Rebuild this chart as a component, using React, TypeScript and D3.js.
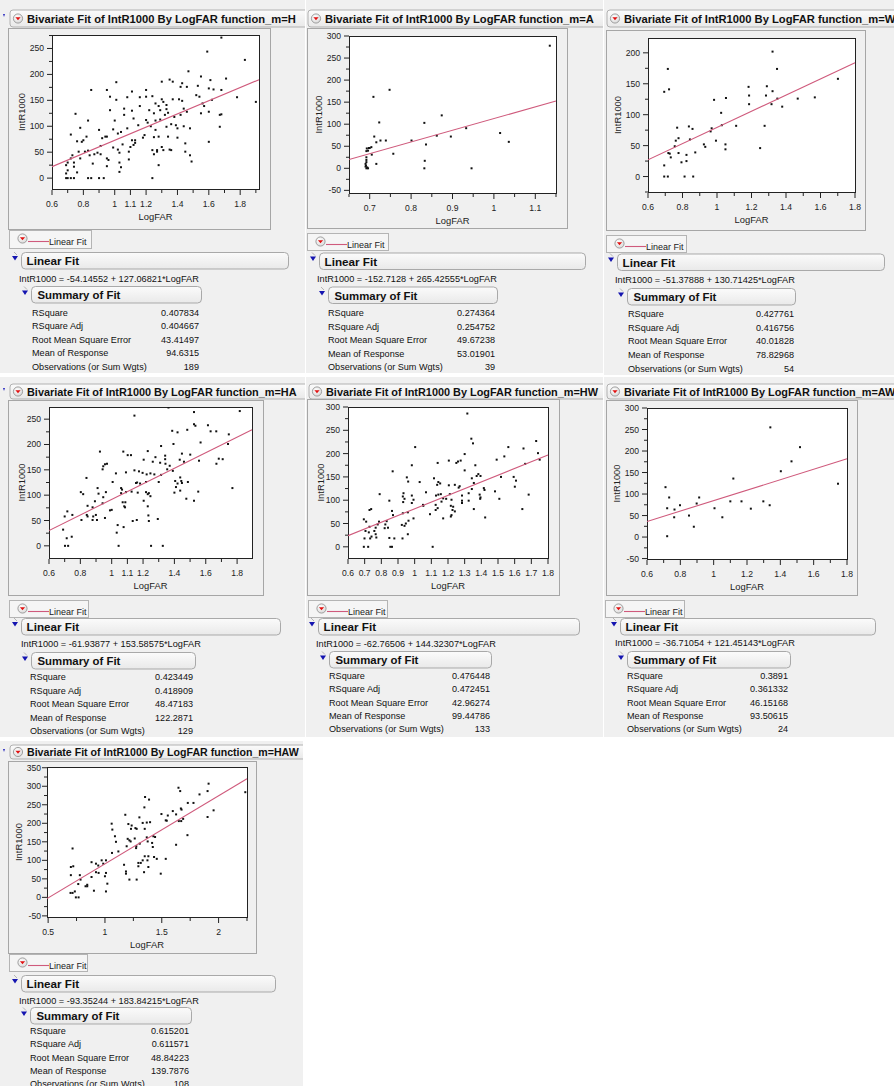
import * as d3 from "d3";

const FONT = "'Liberation Sans', Arial, Helvetica, sans-serif";
const FIT_COLOR = "#cf5a7c";
const BG = "#f0f0f0";

// ---- data ----
const panelNames = ["H", "A", "W", "HA", "HW", "AW", "HAW"];
const intercepts = ["-54.14552", "-152.7128", "-51.37888", "-61.93877", "-62.76506", "-36.71054", "-93.35244"];
const slopes = ["127.06821", "265.42555", "130.71425", "153.58575", "144.32307", "121.45143", "183.84215"];
const statLabels = ["RSquare", "RSquare Adj", "Root Mean Square Error", "Mean of Response", "Observations (or Sum Wgts)"];
const rSquare = ["0.407834", "0.274364", "0.427761", "0.423449", "0.476448", "0.3891", "0.615201"];
const rSquareAdj = ["0.404667", "0.254752", "0.416756", "0.418909", "0.472451", "0.361332", "0.611571"];
const rmse = ["43.41497", "49.67238", "40.01828", "48.47183", "42.96274", "46.15168", "48.84223"];
const meanResponse = ["94.6315", "53.01901", "78.82968", "122.2871", "99.44786", "93.50615", "139.7876"];
const observations = ["189", "39", "54", "129", "133", "24", "108"];

const xDomains = [[0.6, 1.92], [0.65, 1.15], [0.6, 1.8], [0.6, 1.895], [0.6, 1.8], [0.6, 1.8], [0.49, 2.25]];
const yDomains = [[-21, 276], [-56, 300], [-25, 224], [-24, 274], [-24, 300], [-51, 300], [-53, 352]];
const xTickLabels = [
  [0.6, 0.8, 1, 1.1, 1.2, 1.4, 1.6, 1.8],
  [0.7, 0.8, 0.9, 1, 1.1],
  [0.6, 0.8, 1, 1.2, 1.4, 1.6, 1.8],
  [0.6, 0.8, 1, 1.1, 1.2, 1.4, 1.6, 1.8],
  [0.6, 0.7, 0.8, 0.9, 1, 1.1, 1.2, 1.3, 1.4, 1.5, 1.6, 1.7, 1.8],
  [0.6, 0.8, 1, 1.2, 1.4, 1.6, 1.8],
  [0.5, 1, 1.5, 2],
];
const xMinorStep = [0.1, 0.05, 0.1, 0.1, 0.1, 0.1, 0.25];
const yTickLabels = [
  [0, 50, 100, 150, 200, 250],
  [-50, 0, 50, 100, 150, 200, 250, 300],
  [0, 50, 100, 150, 200],
  [0, 50, 100, 150, 200, 250],
  [0, 50, 100, 150, 200, 250, 300],
  [-50, 0, 50, 100, 150, 200, 250, 300],
  [-50, 0, 50, 100, 150, 200, 250, 300, 350],
];

const pointsH = [
  [0.69, 0], [0.7, 0], [0.72, 0], [0.74, 0], [0.83, 0], [0.85, 0], [0.9, 0], [0.93, 0], [1.24, 0],
  [0.69, 9], [0.7, 15], [0.76, 11], [0.74, 22], [0.69, 25], [0.7, 30], [0.74, 30], [0.72, 38],
  [0.72, 84], [0.75, 124], [0.78, 97], [0.76, 71], [0.79, 70], [0.8, 73], [0.77, 51], [0.73, 44],
  [0.78, 38], [0.81, 51], [0.83, 53], [0.82, 80], [0.83, 111], [0.84, 44], [0.85, 170], [0.86, 28],
  [0.87, 46], [0.89, 49], [0.9, 93], [0.91, 46], [0.91, 62], [0.92, 77], [0.94, 80], [0.95, 80],
  [0.95, 170], [0.95, 38], [0.95, 23], [0.96, 35], [0.97, 157], [0.97, 131], [0.99, 59], [0.99, 94],
  [1.0, 111], [1.01, 185], [1.01, 151], [1.02, 55], [1.02, 86], [1.03, 30], [1.03, 12], [1.03, 49],
  [1.04, 89], [1.04, 21], [1.05, 65], [1.06, 134], [1.06, 122], [1.08, 96], [1.08, 156], [1.09, 51],
  [1.09, 36], [1.1, 60], [1.11, 73], [1.11, 130], [1.11, 167], [1.12, 115], [1.12, 64], [1.13, 73],
  [1.13, 68], [1.15, 102], [1.16, 156], [1.16, 139], [1.18, 78], [1.19, 83], [1.2, 112], [1.2, 170],
  [1.2, 157], [1.21, 107], [1.22, 131], [1.23, 100], [1.24, 54], [1.24, 158], [1.25, 46], [1.25, 79],
  [1.25, 125], [1.26, 111], [1.26, 93], [1.26, 144], [1.27, 51], [1.27, 54], [1.28, 139], [1.28, 25],
  [1.28, 80], [1.29, 113], [1.29, 131], [1.3, 152], [1.3, 60], [1.3, 186], [1.31, 54], [1.31, 147],
  [1.32, 122], [1.33, 99], [1.33, 141], [1.33, 133], [1.34, 80], [1.34, 126], [1.35, 55], [1.35, 190],
  [1.36, 54], [1.36, 104], [1.37, 152], [1.37, 186], [1.38, 118], [1.39, 102], [1.4, 96], [1.4, 78],
  [1.41, 152], [1.42, 176], [1.42, 122], [1.43, 183], [1.43, 149], [1.44, 134], [1.44, 100], [1.45, 51],
  [1.45, 67], [1.46, 176], [1.46, 128], [1.47, 206], [1.48, 96], [1.48, 44], [1.49, 32], [1.52, 160],
  [1.53, 178], [1.54, 157], [1.55, 196], [1.55, 125], [1.56, 144], [1.57, 139], [1.59, 244], [1.6, 173],
  [1.6, 128], [1.6, 70], [1.61, 189], [1.62, 151], [1.63, 171], [1.67, 99], [1.67, 122], [1.68, 271],
  [1.68, 170], [1.68, 123], [1.71, 192], [1.78, 156], [1.83, 228], [1.9, 147],
];

const pointsA = [
  [1.135, 278], [0.748, 178], [0.709, 162], [0.723, 104], [0.874, 120], [0.832, 103], [0.933, 91],
  [1.015, 80], [1.036, 60], [0.896, 72], [0.862, 74], [0.711, 72], [0.801, 63], [0.726, 63], [0.739, 63],
  [0.716, 59], [0.836, 54], [0.704, 48], [0.698, 46], [0.693, 45], [0.692, 39], [0.757, 33], [0.705, 31],
  [0.692, 19], [0.833, 17], [0.692, 14], [0.69, 10], [0.716, 10], [0.691, 6], [0.692, 0], [0.696, 0],
  [0.832, 0], [0.946, 0], [0.692, 25], [0.69, 4], [0.694, 2], [0.7, 46], [0.696, 40],
];

const pointsW = [
  [1.322, 202], [1.348, 174], [0.715, 174], [0.694, 137], [0.722, 141], [1.183, 145], [1.289, 146],
  [1.322, 138], [1.186, 131], [1.284, 131], [1.701, 158], [1.567, 128], [1.468, 126], [1.35, 126],
  [1.052, 127], [0.983, 124], [1.186, 117], [1.316, 117], [1.378, 113], [1.024, 103], [0.769, 79],
  [0.837, 81], [0.858, 77], [0.969, 78], [0.963, 73], [1.028, 83], [1.111, 82], [1.276, 82], [0.777, 62],
  [0.761, 58], [0.843, 60], [0.994, 58], [0.755, 49], [0.924, 52], [0.932, 48], [1.049, 52], [1.049, 44],
  [1.25, 46], [0.718, 38], [0.726, 37], [0.777, 38], [0.823, 35], [0.874, 39], [0.732, 31], [0.794, 23],
  [0.823, 25], [0.694, 18], [0.694, 0], [0.715, 0], [0.812, 0], [0.862, 0],
];

const pointsHA = [
  [1.362, 273], [1.145, 257], [1.525, 264], [1.817, 266], [1.525, 240], [1.534, 237], [1.614, 238],
  [1.482, 229], [1.386, 227], [1.42, 224], [1.631, 226], [1.667, 226], [1.747, 220], [1.567, 204],
  [1.742, 201], [1.394, 201], [1.315, 197], [0.925, 186], [1.23, 187], [1.074, 186], [1.102, 179],
  [1.123, 179], [1.448, 182], [1.501, 180], [1.341, 178], [1.341, 171], [1.279, 175], [1.204, 170],
  [0.957, 161], [0.97, 162], [0.946, 157], [0.942, 151], [1.309, 164], [1.434, 170], [1.461, 166],
  [1.557, 168], [1.683, 172], [1.668, 162], [1.262, 166], [1.343, 162], [1.37, 158], [1.145, 149],
  [1.174, 147], [1.197, 144], [1.223, 141], [1.027, 143], [1.091, 145], [1.315, 140], [1.247, 143],
  [1.272, 141], [1.39, 148], [1.354, 151], [0.839, 134], [1.437, 135], [1.444, 128], [1.405, 128],
  [1.448, 124], [1.181, 123], [1.162, 125], [1.155, 124], [1.219, 126], [1.3, 126], [1.42, 123],
  [1.486, 126], [0.91, 114], [1.06, 114], [1.066, 111], [1.06, 104], [1.006, 126], [1.091, 106],
  [1.127, 107], [1.166, 105], [1.219, 106], [1.23, 102], [1.237, 104], [1.247, 98], [0.916, 103],
  [0.963, 106], [0.803, 106], [0.818, 102], [1.204, 89], [1.07, 86], [1.087, 86], [0.946, 96],
  [0.942, 84], [0.893, 88], [0.846, 79], [0.878, 76], [0.841, 61], [0.846, 58], [0.882, 58], [0.899, 61],
  [0.878, 51], [0.906, 51], [0.957, 55], [1.08, 78], [1.085, 76], [1.0, 71], [0.989, 70], [1.038, 41],
  [1.032, 26], [1.076, 37], [1.134, 49], [1.16, 51], [1.23, 78], [1.234, 60], [1.237, 49], [1.294, 53],
  [1.4, 105], [1.41, 116], [1.437, 109], [1.476, 93], [1.525, 89], [1.552, 107], [1.708, 171], [1.77, 114],
  [0.807, 51], [0.717, 68], [0.7, 58], [0.749, 61], [0.69, 32], [0.745, 18], [0.713, 15], [0.702, 0],
  [0.722, 0], [1.044, 0], [1.251, 0], [1.326, 0],
];

const pointsHW = [
  [1.316, 286], [1.34, 232], [1.35, 222], [1.003, 214], [1.562, 214], [1.653, 211], [1.729, 227],
  [1.74, 201], [1.75, 187], [1.492, 187], [1.538, 194], [1.663, 178], [1.3, 199], [1.205, 185],
  [1.26, 183], [1.276, 185], [1.25, 180], [1.138, 180], [1.3, 164], [0.983, 175], [1.364, 175],
  [1.382, 156], [1.372, 152], [1.395, 152], [1.343, 147], [1.355, 137], [1.324, 115], [1.343, 124],
  [1.518, 150], [1.594, 150], [1.608, 142], [1.601, 129], [1.415, 126], [1.419, 122], [1.39, 112],
  [1.395, 106], [1.393, 103], [0.953, 149], [0.961, 140], [1.03, 139], [1.116, 147], [1.135, 133],
  [1.142, 139], [1.153, 136], [1.205, 132], [1.241, 133], [1.264, 127], [1.27, 130], [1.211, 113],
  [1.221, 101], [1.142, 112], [1.157, 113], [1.128, 110], [1.171, 104], [1.189, 103], [1.068, 117],
  [0.933, 115], [0.929, 108], [0.931, 96], [0.939, 103], [0.983, 94], [1.05, 90], [1.052, 88],
  [1.092, 70], [1.126, 90], [1.126, 79], [1.138, 83], [1.161, 97], [1.217, 88], [1.231, 86], [1.227, 79],
  [1.241, 76], [1.217, 65], [1.221, 68], [1.171, 61], [1.284, 94], [1.284, 99], [1.284, 110], [1.324, 99],
  [1.355, 81], [1.423, 63], [1.482, 119], [1.508, 103], [1.646, 81], [1.684, 112], [0.983, 110],
  [0.993, 101], [0.959, 74], [0.993, 61], [0.963, 56], [0.929, 72], [0.947, 50], [0.923, 47], [0.939, 45],
  [0.927, 18], [0.959, 27], [0.848, 99], [0.864, 77], [0.87, 68], [0.832, 55], [0.824, 48], [0.84, 41],
  [0.848, 19], [0.79, 113], [0.786, 54], [0.778, 48], [0.766, 41], [0.758, 34], [0.766, 27], [0.77, 20],
  [0.729, 79], [0.739, 81], [0.695, 59], [0.709, 54], [0.729, 43], [0.705, 34], [0.725, 31], [0.741, 22],
  [0.733, 18], [0.699, 18], [0.695, 0], [0.721, 0], [0.854, 0], [0.864, 0], [1.108, 0], [0.868, 162],
  [0.878, 18], [0.82, 40],
];

const pointsAW = [
  [1.34, 255], [1.518, 209], [1.467, 176], [1.403, 153], [1.118, 136], [1.746, 124], [0.711, 116],
  [0.733, 92], [0.913, 92], [0.898, 78], [0.798, 74], [0.721, 67], [0.765, 64], [1.005, 67], [1.1, 83],
  [1.167, 83], [1.298, 83], [1.336, 74], [1.223, 66], [0.852, 50], [0.763, 46], [1.052, 46], [0.881, 24],
  [0.721, 2],
];

const pointsHAW = [
  [1.647, 296], [1.662, 287], [1.912, 307], [1.903, 287], [1.832, 278], [1.779, 255], [1.729, 255],
  [1.668, 240], [1.674, 237], [1.553, 221], [1.544, 207], [1.597, 233], [1.626, 224], [1.65, 206],
  [1.671, 206], [1.688, 212], [1.956, 235], [1.903, 217], [1.726, 168], [1.626, 142], [2.235, 284],
  [1.353, 271], [1.388, 264], [1.347, 243], [1.179, 223], [1.497, 225], [1.535, 208], [1.303, 216],
  [1.332, 201], [1.368, 202], [1.397, 203], [1.206, 198], [1.235, 194], [1.229, 185], [1.268, 187],
  [1.279, 185], [1.059, 199], [1.065, 183], [1.088, 165], [1.097, 150], [1.118, 124], [1.2, 158],
  [1.215, 154], [1.226, 151], [1.191, 138], [1.262, 159], [1.276, 138], [1.274, 133], [1.306, 145],
  [1.35, 185], [1.368, 162], [1.376, 151], [1.415, 147], [1.426, 165], [1.441, 163], [1.421, 136],
  [1.432, 109], [1.456, 104], [1.35, 111], [1.382, 111], [1.374, 100], [1.332, 100], [1.344, 68],
  [1.315, 93], [1.294, 93], [1.294, 84], [1.382, 82], [1.535, 104], [1.491, 64], [1.279, 48], [1.215, 48],
  [1.185, 70], [1.185, 64], [1.168, 88], [1.062, 120], [1.009, 100], [0.971, 100], [0.985, 91],
  [1.009, 66], [1.0, 57], [1.021, 37], [1.009, 16], [0.941, 86], [0.921, 91], [0.882, 95], [0.921, 68],
  [0.944, 66], [0.882, 55], [0.903, 18], [0.844, 34], [0.844, 30], [0.829, 30], [0.779, 60], [0.785, 48],
  [0.765, 36], [0.7, 60], [0.7, 82], [0.721, 84], [0.715, 132], [0.697, 12], [0.715, 12], [0.735, 16],
  [0.744, 0], [0.768, 0],
];

const pointSets = [pointsH, pointsA, pointsW, pointsHA, pointsHW, pointsAW, pointsHAW];

// ---- page layout (pixel boxes of each report window) ----
const layouts = [
  { bg: [0, 0, 305, 373], title: [10, 10, 17, 11.2], frame: [8, 28, 262, 201], plot: [52, 35, 207, 154], yLabDx: -27.5, tickGap: 8, legend: [9, 230, 82, 18], header: [21, 252, 267], eq: [19, 281.5], summary: [31, 286, 170], rows: [32, 199, 315.5, 13.6] },
  { bg: [306, 0, 297, 373], title: [308, 10, 17, 11.2], frame: [307, 28, 260, 200], plot: [349, 36, 207, 157], yLabDx: -27.5, tickGap: 8, legend: [307, 233, 81, 17], header: [319, 252.5, 266], eq: [317, 282], summary: [328, 286.5, 169], rows: [328, 495, 316, 13.6] },
  { bg: [604, 0, 290, 375], title: [607, 10, 17, 11.2], frame: [606, 30, 259, 200], plot: [648, 38, 207, 154], yLabDx: -27.5, tickGap: 8, legend: [606, 235, 80, 17], header: [617, 253.5, 267], eq: [615, 283], summary: [627, 288, 168], rows: [628, 794, 317, 13.7] },
  { bg: [0, 377, 305, 360], title: [10, 384, 15, 10.9], frame: [8, 400, 255, 195], plot: [49, 407, 203, 151], yLabDx: -24.5, tickGap: 8, legend: [9, 600, 79, 17], header: [21, 618, 259], eq: [21, 647], summary: [31, 652, 164], rows: [30, 193, 680, 13.5] },
  { bg: [306, 377, 297, 360], title: [309, 384, 15, 10.9], frame: [307, 399, 252, 196], plot: [348, 407, 200, 151], yLabDx: -24.5, tickGap: 8, legend: [308, 600, 79, 17], header: [318, 618, 261], eq: [316, 647], summary: [329, 651, 162], rows: [329, 490, 679, 13.3] },
  { bg: [604, 377, 290, 360], title: [607, 384, 15, 10.9], frame: [606, 400, 251, 195], plot: [647, 408, 200, 151], yLabDx: -27.5, tickGap: 8, legend: [605, 600, 79, 17], header: [620, 618, 255], eq: [615, 646], summary: [627, 651, 163], rows: [627, 788, 679, 13.3] },
  { bg: [0, 741, 303, 345], title: [10, 745, 14, 10.6], frame: [8, 761, 248, 192], plot: [47, 767, 200, 150], yLabDx: -25, tickGap: 6, legend: [9, 954, 78, 17], header: [21, 975, 254], eq: [19, 1004], summary: [30, 1007, 161], rows: [30, 189, 1034, 13.3] },
];

function RedIcon({ cx, cy }: { cx: number; cy: number }) {
  return (
    <g>
      <circle cx={cx} cy={cy} r={4.6} fill="url(#iconGrad)" stroke="#8c8c8c" strokeWidth={0.8} />
      <path d={`M${cx - 2.6},${cy - 1.3} L${cx + 2.6},${cy - 1.3} L${cx},${cy + 1.8} Z`} fill="#e01010" />
    </g>
  );
}

function BlueTri({ x, y }: { x: number; y: number }) {
  return (
    <g>
      <path d={`M${x - 1},${y - 4} L${x + 2},${y - 1}`} stroke="#9a9a9a" strokeWidth={0.7} />
      <path d={`M${x - 3},${y} L${x + 3},${y} L${x},${y + 4.5} Z`} fill="#1515b0" />
    </g>
  );
}

function Panel({ i }: { i: number }) {
  const L = layouts[i];
  const [bx, by, bw, bh] = L.bg;
  const [fx, fy, fw, fh] = L.frame;
  const [ax, ay, aw, ah] = L.plot;
  const xd = xDomains[i];
  const x = d3.scaleLinear().domain(xd).range([ax, ax + aw]);
  const y = d3.scaleLinear().domain(yDomains[i]).range([ay + ah, ay]);
  const b0 = +intercepts[i];
  const b1 = +slopes[i];
  const fit = d3
    .line<number>()
    .x((v) => x(v))
    .y((v) => y(b0 + b1 * v))(xd) ?? "";

  const step = xMinorStep[i];
  const k0 = Math.ceil(xd[0] / step - 1e-6);
  const k1 = Math.floor(xd[1] / step + 1e-6);
  const xTicks = d3.range(k0, k1 + 1).map((k) => +(k * step).toFixed(3));
  const xLabs = xTickLabels[i];
  const yd = yDomains[i];
  const yMinor = d3
    .range(Math.ceil(yd[0] / 25), Math.floor(yd[1] / 25) + 1)
    .map((k) => k * 25)
    .filter((v) => v % 50 !== 0);

  const clipId = `panel-clip-${i}`;
  const plotClip = `plot-clip-${i}`;
  const [tx, ty, th, tfs] = L.title;
  const [lx, ly, lw, lh] = L.legend;
  const [hx, hy, hw] = L.header;
  const [sx, sy, sw] = L.summary;
  const [rx, rv, rb, rs] = L.rows;
  const values = [rSquare[i], rSquareAdj[i], rmse[i], meanResponse[i], observations[i]];

  return (
    <g clipPath={`url(#${clipId})`}>
      <defs>
        <clipPath id={clipId}>
          <rect x={bx} y={by} width={bw} height={bh} />
        </clipPath>
        <clipPath id={plotClip}>
          <rect x={ax} y={ay} width={aw + 1} height={ah + 1} />
        </clipPath>
      </defs>
      <rect x={bx} y={by} width={bw} height={bh} fill={BG} />
      <path d={`M${bx + 3},${ty + 4} l2,0 l-1,3 Z`} fill="#2a2ac0" />

      {/* title bar */}
      <rect x={tx} y={ty} width={bw + 20} height={th} rx={3} fill="url(#barGrad)" stroke="#a9a9a9" strokeWidth={0.9} />
      <RedIcon cx={tx + 8} cy={ty + th / 2} />
      <text x={tx + 17} y={ty + th / 2 + 4} fontSize={tfs} fontWeight="bold" fill="#111">
        {`Bivariate Fit of IntR1000 By LogFAR function_m=${panelNames[i]}`}
      </text>

      {/* graph frame */}
      <rect x={fx + 0.5} y={fy + 0.5} width={fw} height={fh} fill="none" stroke="#a6a6a6" />
      <rect x={ax + 0.5} y={ay + 0.5} width={aw} height={ah} fill="#fff" stroke="#222" />

      {/* y axis */}
      {yTickLabels[i].map((v) => (
        <g key={`y${v}`}>
          <line x1={ax - 5} x2={ax} y1={y(v)} y2={y(v)} stroke="#222" />
          <text x={ax - L.tickGap} y={y(v) + 3} fontSize={8.6} textAnchor="end" fill="#222">
            {v}
          </text>
        </g>
      ))}
      {yMinor.map((v) => (
        <line key={`ym${v}`} x1={ax - 3} x2={ax} y1={y(v)} y2={y(v)} stroke="#222" />
      ))}
      <text
        transform={`translate(${ax + L.yLabDx},${ay + ah / 2}) rotate(-90)`}
        fontSize={9.4}
        textAnchor="middle"
        fill="#222"
      >
        IntR1000
      </text>

      {/* x axis */}
      {xTicks.map((v) => {
        const major = xLabs.some((t) => Math.abs(t - v) < 1e-6);
        return (
          <line
            key={`x${v}`}
            x1={x(v)}
            x2={x(v)}
            y1={ay + ah + 1}
            y2={ay + ah + (major ? 6 : 4)}
            stroke="#222"
          />
        );
      })}
      {xLabs.map((v) => (
        <text key={`xl${v}`} x={x(v)} y={ay + ah + 18} fontSize={8.6} textAnchor="middle" fill="#222">
          {v}
        </text>
      ))}
      <text x={ax + aw / 2} y={ay + ah + 31} fontSize={9.4} textAnchor="middle" fill="#222">
        LogFAR
      </text>

      {/* points and fit */}
      <g clipPath={`url(#${plotClip})`}>
        {pointSets[i].map((p, j) => (
          <rect key={j} x={x(p[0]) - 1} y={y(p[1]) - 1} width={2} height={2} fill="#111" />
        ))}
        <path d={fit} fill="none" stroke={FIT_COLOR} strokeWidth={1.1} />
      </g>

      {/* legend button */}
      <rect x={lx + 0.5} y={ly + 0.5} width={lw} height={lh} fill="#f5f5f5" stroke="#b4b4b4" />
      <RedIcon cx={lx + 13.5} cy={ly + 8.5} />
      <line x1={lx + 19} x2={lx + 40} y1={ly + 11.5} y2={ly + 11.5} stroke={FIT_COLOR} strokeWidth={1.1} />
      <text x={lx + 40} y={ly + 14.5} fontSize={9} fill="#222">
        Linear Fit
      </text>

      {/* Linear Fit outline */}
      <BlueTri x={hx - 6} y={hy + 4} />
      <rect x={hx + 0.5} y={hy + 0.5} width={hw} height={16.5} rx={4} fill="url(#barGrad)" stroke="#a9a9a9" />
      <text x={hx + 5.5} y={hy + 13} fontSize={11.7} fontWeight="bold" fill="#111">
        Linear Fit
      </text>
      <text x={L.eq[0]} y={L.eq[1]} fontSize={9.2} fill="#111">
        {`IntR1000 = ${intercepts[i]} + ${slopes[i]}*LogFAR`}
      </text>

      {/* Summary of Fit */}
      <BlueTri x={sx - 6} y={sy + 4.5} />
      <rect x={sx + 0.5} y={sy + 0.5} width={sw} height={16.5} rx={4} fill="url(#barGrad)" stroke="#a9a9a9" />
      <text x={sx + 6.5} y={sy + 13} fontSize={11.4} fontWeight="bold" fill="#111">
        Summary of Fit
      </text>
      {statLabels.map((lab, j) => (
        <g key={lab}>
          <text x={rx} y={rb + j * rs} fontSize={9.1} fill="#111">
            {lab}
          </text>
          <text x={rv} y={rb + j * rs} fontSize={9.1} textAnchor="end" fill="#111">
            {values[j]}
          </text>
        </g>
      ))}
    </g>
  );
}

export default function App() {
  return (
    <div style={{ position: "absolute", left: 0, top: 0 }}>
      <svg width={894} height={1086} style={{ display: "block", fontFamily: FONT }}>
        <defs>
          <linearGradient id="barGrad" x1="0" y1="0" x2="0" y2="1">
            <stop offset="0" stopColor="#fbfbfb" />
            <stop offset="1" stopColor="#e9e9e9" />
          </linearGradient>
          <radialGradient id="iconGrad" cx="0.4" cy="0.35" r="0.7">
            <stop offset="0" stopColor="#ffffff" />
            <stop offset="1" stopColor="#d8d8d8" />
          </radialGradient>
        </defs>
        <rect width={894} height={1086} fill="#fff" />
        {panelNames.map((_, i) => (
          <Panel key={i} i={i} />
        ))}
      </svg>
    </div>
  );
}
